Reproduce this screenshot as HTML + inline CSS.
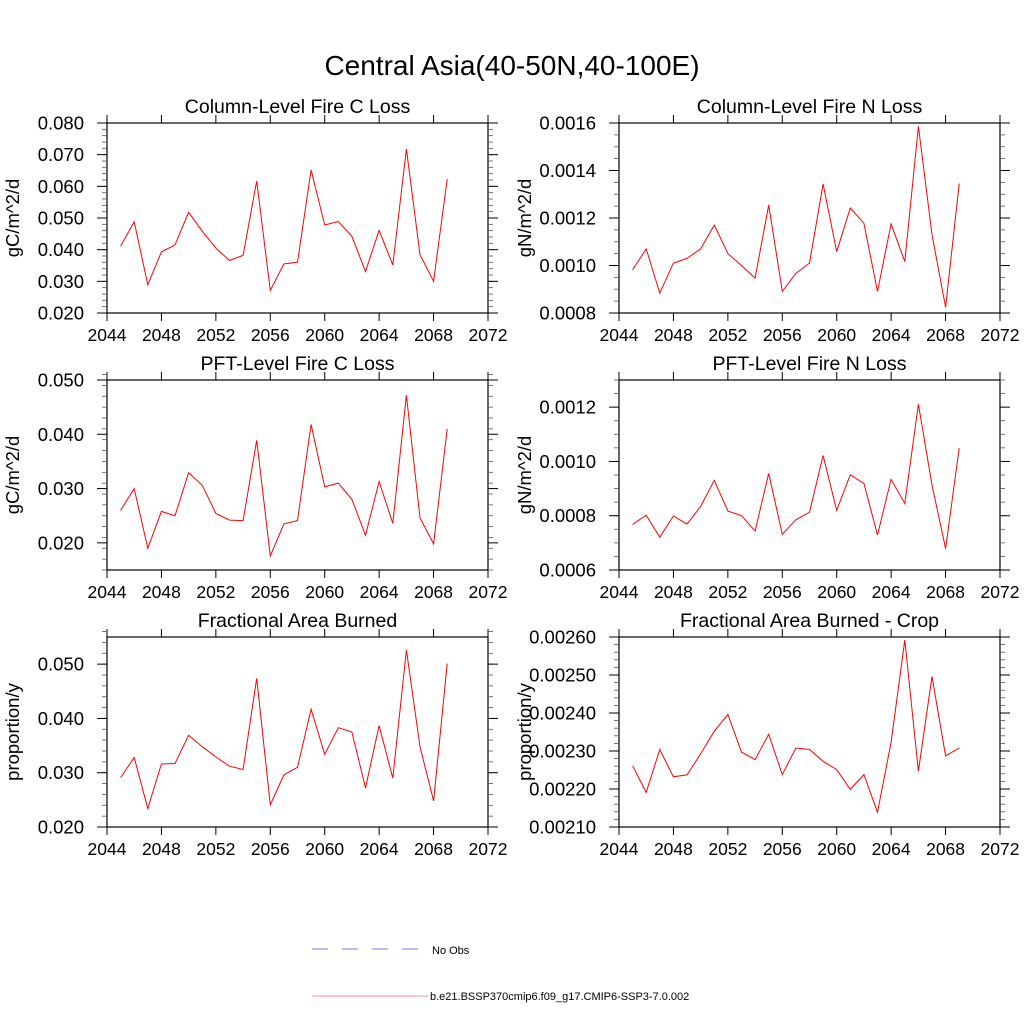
<!DOCTYPE html>
<html><head><meta charset="utf-8"><style>
html,body{margin:0;padding:0;background:#fff;}
svg{display:block;font-family:"Liberation Sans",Arial,sans-serif;}
</style></head><body>
<svg id="chart" width="1024" height="1024" viewBox="0 0 1024 1024">
<text x="512" y="75" font-size="28" text-anchor="middle">Central Asia(40-50N,40-100E)</text>
<g id="panels"></g>
<g>
<line x1="312" y1="949" x2="418" y2="949" stroke="#7777ee" stroke-width="1" stroke-dasharray="16,14"/>
<text x="432" y="954" font-size="11">No Obs</text>
<line x1="312" y1="996" x2="428" y2="996" stroke="#ff8888" stroke-width="1"/>
<text x="430" y="1000" font-size="11">b.e21.BSSP370cmip6.f09_g17.CMIP6-SSP3-7.0.002</text>
</g>
</svg>
<script>
const years = [2045,2046,2047,2048,2049,2050,2051,2052,2053,2054,2055,2056,2057,2058,2059,2060,2061,2062,2063,2064,2065,2066,2067,2068,2069];
const xTicks = [2044,2048,2052,2056,2060,2064,2068,2072];
const colCLoss = [0.0411,0.0488,0.0289,0.0393,0.0415,0.0518,0.0458,0.0405,0.0366,0.0382,0.0617,0.0271,0.0355,0.0360,0.0652,0.0478,0.0489,0.0442,0.0331,0.0461,0.0352,0.0718,0.0384,0.0300,0.0623];
const colNLoss = [0.000982,0.00107,0.000884,0.00101,0.00103,0.00107,0.00117,0.00105,0.00100,0.000947,0.001255,0.000891,0.000967,0.00101,0.001343,0.001058,0.001242,0.001178,0.000891,0.001175,0.001016,0.001586,0.00113,0.000824,0.001345];
const pftCLoss = [0.0260,0.0300,0.0190,0.0258,0.0250,0.0329,0.0306,0.0254,0.0242,0.0241,0.0389,0.0176,0.0235,0.0241,0.0418,0.0303,0.0310,0.0280,0.0214,0.0313,0.0236,0.0472,0.0246,0.0198,0.0410];
const pftNLoss = [0.000768,0.000802,0.000721,0.000799,0.000769,0.000834,0.00093,0.000817,0.0008,0.000744,0.000956,0.000731,0.000785,0.000813,0.001022,0.00082,0.000951,0.000919,0.000729,0.000934,0.000845,0.001211,0.000913,0.000679,0.001049];
const areaBurned = [0.0291,0.0328,0.0234,0.0316,0.0317,0.0369,0.0348,0.0329,0.0312,0.0306,0.0474,0.0241,0.0296,0.0310,0.0417,0.0334,0.0383,0.0375,0.0272,0.0387,0.0290,0.0526,0.0348,0.0248,0.0501];
const areaCrop = [0.002261,0.002191,0.002304,0.002232,0.002237,0.002292,0.002352,0.002396,0.002297,0.002277,0.002344,0.002238,0.002308,0.002304,0.002273,0.002251,0.002199,0.002238,0.002139,0.002323,0.002592,0.002247,0.002496,0.002287,0.002308];
const yTicks1 = [0.020,0.030,0.040,0.050,0.060,0.070,0.080];
const yLabels1 = ["0.020","0.030","0.040","0.050","0.060","0.070","0.080"];
const yTicks2 = [0.0008,0.0010,0.0012,0.0014,0.0016];
const yLabels2 = ["0.0008","0.0010","0.0012","0.0014","0.0016"];
const yTicks3 = [0.020,0.030,0.040,0.050];
const yLabels3 = ["0.020","0.030","0.040","0.050"];
const yTicks4 = [0.0006,0.0008,0.0010,0.0012];
const yLabels4 = ["0.0006","0.0008","0.0010","0.0012"];
const yTicks5 = [0.020,0.030,0.040,0.050];
const yLabels5 = ["0.020","0.030","0.040","0.050"];
const yTicks6 = [0.0021,0.0022,0.0023,0.0024,0.0025,0.0026];
const yLabels6 = ["0.00210","0.00220","0.00230","0.00240","0.00250","0.00260"];

const panels = [
 {name:'column-fire-c-loss',title:'Column-Level Fire C Loss',ylab:'gC/m^2/d',x:107,y:123,data:colCLoss,ymin:0.02,ymax:0.08,ticks:yTicks1,labels:yLabels1,minor:0.002},
 {name:'column-fire-n-loss',title:'Column-Level Fire N Loss',ylab:'gN/m^2/d',x:619,y:123,data:colNLoss,ymin:0.0008,ymax:0.0016,ticks:yTicks2,labels:yLabels2,minor:0.00005},
 {name:'pft-fire-c-loss',title:'PFT-Level Fire C Loss',ylab:'gC/m^2/d',x:107,y:380,data:pftCLoss,ymin:0.015,ymax:0.050,ticks:yTicks3,labels:yLabels3,minor:0.002},
 {name:'pft-fire-n-loss',title:'PFT-Level Fire N Loss',ylab:'gN/m^2/d',x:619,y:380,data:pftNLoss,ymin:0.0006,ymax:0.0013,ticks:yTicks4,labels:yLabels4,minor:0.00005},
 {name:'fractional-area-burned',title:'Fractional Area Burned',ylab:'proportion/y',x:107,y:637,data:areaBurned,ymin:0.020,ymax:0.055,ticks:yTicks5,labels:yLabels5,minor:0.002},
 {name:'fractional-area-burned-crop',title:'Fractional Area Burned - Crop',ylab:'proportion/y',x:619,y:637,data:areaCrop,ymin:0.0021,ymax:0.0026,ticks:yTicks6,labels:yLabels6,minor:0.00002}
];
const W=381,H=190,NS='http://www.w3.org/2000/svg';
const root=document.getElementById('panels');
function mk(tag,attrs,parent){const e=document.createElementNS(NS,tag);for(const k in attrs)e.setAttribute(k,attrs[k]);parent.appendChild(e);return e;}
panels.forEach(p=>{
 const g=mk('g',{},root);
 
 
 const xs=v=>p.x+(v-2044)/28*W;
 const ys=v=>p.y+H-(v-p.ymin)/(p.ymax-p.ymin)*H;
 const fr=mk('rect',{x:p.x,y:p.y,width:W,height:H,fill:'none',stroke:'#000','stroke-width':1.2},g);
 
 
 const t=mk('text',{x:p.x+W/2,y:p.y-10,'font-size':19.5,'text-anchor':'middle'},g);
 t.textContent=p.title;
 
 
 const yl=mk('text',{x:0,y:0,'font-size':18.5,'text-anchor':'middle',transform:`translate(${p.x-88},${p.y+H/2}) rotate(-90)`},g);
 yl.textContent=p.ylab;
 
 
 xTicks.forEach(v=>{
  const X=xs(v);
  mk('line',{x1:X,y1:p.y+H,x2:X,y2:p.y+H+8,stroke:'#000'},g);
  mk('line',{x1:X,y1:p.y,x2:X,y2:p.y-8,stroke:'#000'},g);
  const tl=mk('text',{x:X,y:p.y+H+28,'font-size':17.5,'text-anchor':'middle'},g);
  tl.textContent=v;
  
  
 });
 const nMin=Math.round((p.ymax-p.ymin)/p.minor);
 for(let i=0;i<=nMin;i++){
  const Y=ys(p.ymin+i*p.minor);
  mk('line',{x1:p.x,y1:Y,x2:p.x-5,y2:Y,stroke:'#555','stroke-width':0.8},g);
  mk('line',{x1:p.x+W,y1:Y,x2:p.x+W+5,y2:Y,stroke:'#555','stroke-width':0.8},g);
 }
 p.ticks.forEach((v,i)=>{
  const Y=ys(v);
  mk('line',{x1:p.x,y1:Y,x2:p.x-10,y2:Y,stroke:'#000'},g);
  mk('line',{x1:p.x+W,y1:Y,x2:p.x+W+10,y2:Y,stroke:'#000'},g);
  const tl=mk('text',{x:p.x-23,y:Y+6.5,'font-size':18.5,'text-anchor':'end'},g);
  tl.textContent=p.labels[i];
  
  
 });
 const pts=p.data.map((v,i)=>xs(years[i]).toFixed(1)+','+ys(v).toFixed(1)).join(' ');
 const ln=mk('polyline',{points:pts,fill:'none',stroke:'#ff0000','stroke-width':1},g);
 
 
});
</script>
</body></html>
